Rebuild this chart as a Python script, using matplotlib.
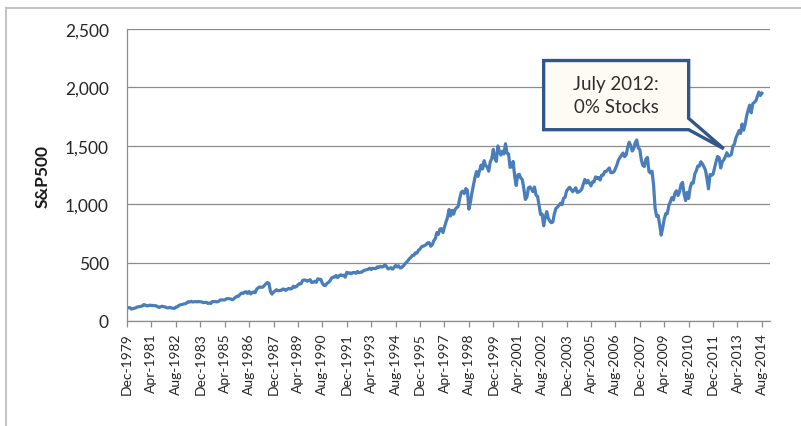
import numpy as np
import matplotlib.pyplot as plt
from matplotlib.patches import Polygon, Rectangle

# ======================================================
# DATA  (monthly S&P 500 level, Dec 1979 .. Aug 2014)
# ======================================================
sp_1979 = [107.9]

sp_1980s = [
    114.2, 113.7, 102.1, 106.3, 111.2, 114.2, 121.7, 122.4, 125.5, 127.5, 140.5, 135.8,
    129.6, 131.3, 136.0, 132.8, 132.6, 131.2, 130.9, 122.8, 116.2, 121.9, 126.4, 122.6,
    120.4, 113.1, 112.0, 116.4, 111.9, 109.6, 107.1, 119.5, 120.4, 133.7, 138.5, 140.6,
    145.3, 148.1, 153.0, 164.4, 162.4, 168.1, 162.6, 164.4, 166.1, 163.6, 166.4, 164.9,
    163.4, 157.1, 159.2, 160.1, 150.6, 153.2, 150.7, 166.7, 166.1, 166.1, 163.6, 167.2,
    179.6, 181.2, 180.7, 179.8, 189.6, 191.9, 190.9, 188.6, 182.1, 189.8, 202.2, 211.3,
    211.8, 226.9, 238.9, 235.5, 247.4, 250.8, 236.1, 252.9, 231.3, 244.0, 249.2, 242.2,
    274.1, 284.2, 291.7, 288.4, 290.1, 304.0, 318.7, 329.8, 321.8, 251.8, 230.3, 247.1,
    257.1, 267.8, 258.9, 261.3, 262.2, 273.5, 272.0, 261.5, 271.9, 279.0, 273.7, 277.7,
    297.5, 288.9, 294.9, 309.6, 320.5, 318.0, 346.1, 351.5, 349.2, 340.4, 346.0, 353.4,
]

sp_1990s = [
    329.1, 331.9, 339.9, 330.8, 361.2, 358.0, 356.2, 322.6, 306.1, 304.0, 322.2, 330.2,
    343.9, 367.1, 375.2, 375.3, 389.8, 371.2, 387.8, 395.4, 387.9, 392.5, 375.2, 417.1,
    408.8, 412.7, 403.7, 415.0, 415.4, 408.1, 424.2, 414.0, 417.8, 418.7, 431.4, 435.7,
    438.8, 443.4, 451.7, 440.2, 450.2, 450.5, 448.1, 463.6, 458.9, 467.8, 461.8, 466.5,
    481.6, 467.1, 445.8, 450.9, 456.5, 444.3, 458.3, 475.5, 462.7, 472.4, 453.7, 459.3,
    470.4, 487.4, 500.7, 514.7, 533.4, 544.8, 562.1, 561.9, 584.4, 581.5, 605.4, 615.9,
    636.0, 640.4, 645.5, 654.2, 669.1, 670.6, 640.0, 652.0, 687.3, 705.3, 757.0, 740.7,
    786.2, 790.8, 757.1, 801.3, 848.3, 885.1, 954.3, 899.5, 947.3, 914.6, 955.4, 970.4,
    980.3, 1049.3, 1101.8, 1111.8, 1090.8, 1133.8, 1120.7, 957.3, 1017.0, 1098.7, 1163.6, 1229.2,
    1279.6, 1238.3, 1286.4, 1335.2, 1301.8, 1372.7, 1328.7, 1320.4, 1282.7, 1362.9, 1389.0, 1469.3,
]

sp_2000s = [
    1394.5, 1366.4, 1498.6, 1452.4, 1420.6, 1454.6, 1430.8, 1517.7, 1436.5, 1429.4, 1315.2, 1320.3,
    1366.0, 1239.9, 1160.3, 1249.5, 1255.8, 1224.4, 1211.2, 1133.6, 1040.9, 1059.8, 1139.5, 1148.1,
    1130.2, 1106.7, 1147.4, 1076.9, 1067.1, 989.8, 911.6, 916.1, 815.3, 885.8, 936.3, 879.8,
    855.7, 841.2, 848.2, 916.9, 963.6, 974.5, 990.3, 1008.0, 996.0, 1050.7, 1058.2, 1111.9,
    1131.1, 1144.9, 1126.2, 1107.3, 1120.7, 1140.8, 1101.7, 1104.2, 1114.6, 1130.2, 1173.8, 1211.9,
    1181.3, 1203.6, 1180.6, 1156.9, 1191.5, 1191.3, 1234.2, 1220.3, 1228.8, 1207.0, 1249.5, 1248.3,
    1280.1, 1280.7, 1294.9, 1310.6, 1270.1, 1270.2, 1276.7, 1303.8, 1335.9, 1377.9, 1400.6, 1418.3,
    1438.2, 1406.8, 1420.9, 1482.4, 1530.6, 1503.4, 1455.3, 1474.0, 1526.8, 1549.4, 1481.1, 1468.4,
    1378.6, 1330.6, 1322.7, 1385.6, 1400.4, 1280.0, 1267.4, 1282.8, 1166.4, 968.8, 896.2, 903.3,
    825.9, 735.1, 797.9, 872.8, 919.1, 919.3, 987.5, 1020.6, 1057.1, 1036.2, 1095.6, 1115.1,
]

sp_2010s = [
    1073.9, 1104.5, 1169.4, 1186.7, 1089.4, 1030.7, 1101.6, 1049.3, 1141.2, 1183.3, 1180.6, 1257.6,
    1286.1, 1327.2, 1325.8, 1363.6, 1345.2, 1320.6, 1292.3, 1218.9, 1131.4, 1253.3, 1247.0, 1257.6,
    1312.4, 1365.7, 1408.5, 1397.9, 1310.3, 1362.2, 1379.3, 1406.6, 1440.7, 1412.2, 1416.2, 1426.2,
    1498.1, 1514.7, 1569.2, 1597.6, 1630.7, 1606.3, 1685.7, 1633.0, 1681.6, 1756.5, 1805.8, 1848.4,
    1782.6, 1859.5, 1872.3, 1884.0, 1923.6, 1960.2, 1930.7, 1950.0,
]

tick_labels = [
    "Dec-1979", "Apr-1981", "Aug-1982", "Dec-1983", "Apr-1985", "Aug-1986",
    "Dec-1987", "Apr-1989", "Aug-1990", "Dec-1991", "Apr-1993", "Aug-1994",
    "Dec-1995", "Apr-1997", "Aug-1998", "Dec-1999", "Apr-2001", "Aug-2002",
    "Dec-2003", "Apr-2005", "Aug-2006", "Dec-2007", "Apr-2009", "Aug-2010",
    "Dec-2011", "Apr-2013", "Aug-2014",
]

callout_text = "July 2012:\n0% Stocks"

# ======================================================
# STYLE
# ======================================================
plt.rcParams['font.family'] = ['Lato', 'DejaVu Sans']
LINE_COLOR = "#4a7ebb"
GRID_COLOR = "#8c8c8c"
TEXT_COLOR = "#262626"

values = np.array(sp_1979 + sp_1980s + sp_1990s + sp_2000s + sp_2010s)
months = np.arange(len(values))

fig = plt.figure(figsize=(8.01, 4.27), dpi=100)
ax = fig.add_axes([127 / 801, 105 / 427, 643 / 801, 292 / 427])

# outer chart border (left and top visible only)
fig.patches.append(Rectangle((6 / 801, -0.1), 1.2, (418 / 427) + 0.1,
                             transform=fig.transFigure, fill=False,
                             edgecolor="#c4c4c4", linewidth=1.5))

ax.plot(months, values, color=LINE_COLOR, linewidth=2.3, solid_joinstyle="round")

ax.set_xlim(0, 421.3)
ax.set_ylim(0, 2500)
ax.set_yticks(np.arange(0, 2501, 500))
ax.yaxis.set_major_formatter(plt.FuncFormatter(lambda v, p: f"{int(v):,}"))
ax.grid(axis="y", color=GRID_COLOR, linewidth=0.9)
ax.set_axisbelow(True)

ax.set_xticks(np.arange(0, len(values), 16))
ax.set_xticklabels(tick_labels, rotation=90, fontsize=10, color=TEXT_COLOR)

for s in ["top", "right"]:
    ax.spines[s].set_visible(False)
for s in ["left", "bottom"]:
    ax.spines[s].set_color(GRID_COLOR)
    ax.spines[s].set_linewidth(0.9)

ax.tick_params(axis="y", length=0, pad=13, labelsize=12.5, labelcolor=TEXT_COLOR)
ax.tick_params(axis="x", length=4, width=0.9, color=GRID_COLOR, pad=4)

ax.set_ylabel("S&P500", fontsize=12.5, fontweight="bold", color="#1a1a1a", labelpad=10)

# ======================================================
# CALLOUT
# ======================================================
bx0, bx1 = 273, 368      # box left/right (month index)
by0, by1 = 1638, 2230    # box bottom/top (index level)
tip = (391, 1475)        # pointer tip near July 2012
callout = Polygon([(bx0, by0), (bx0, by1), (bx1, by1), (bx1, 1735),
                   tip, (bx1, by0)],
                  closed=True, facecolor="#fdfbf4", edgecolor="#31578a",
                  linewidth=2.4, zorder=5)
ax.add_patch(callout)
ax.text((bx0 + bx1) / 2, (by0 + by1) / 2, callout_text, ha="center", va="center",
        fontsize=13.5, color="#2e2e2e", linespacing=1.45, zorder=6)

fig.savefig("out.png", dpi=100)
